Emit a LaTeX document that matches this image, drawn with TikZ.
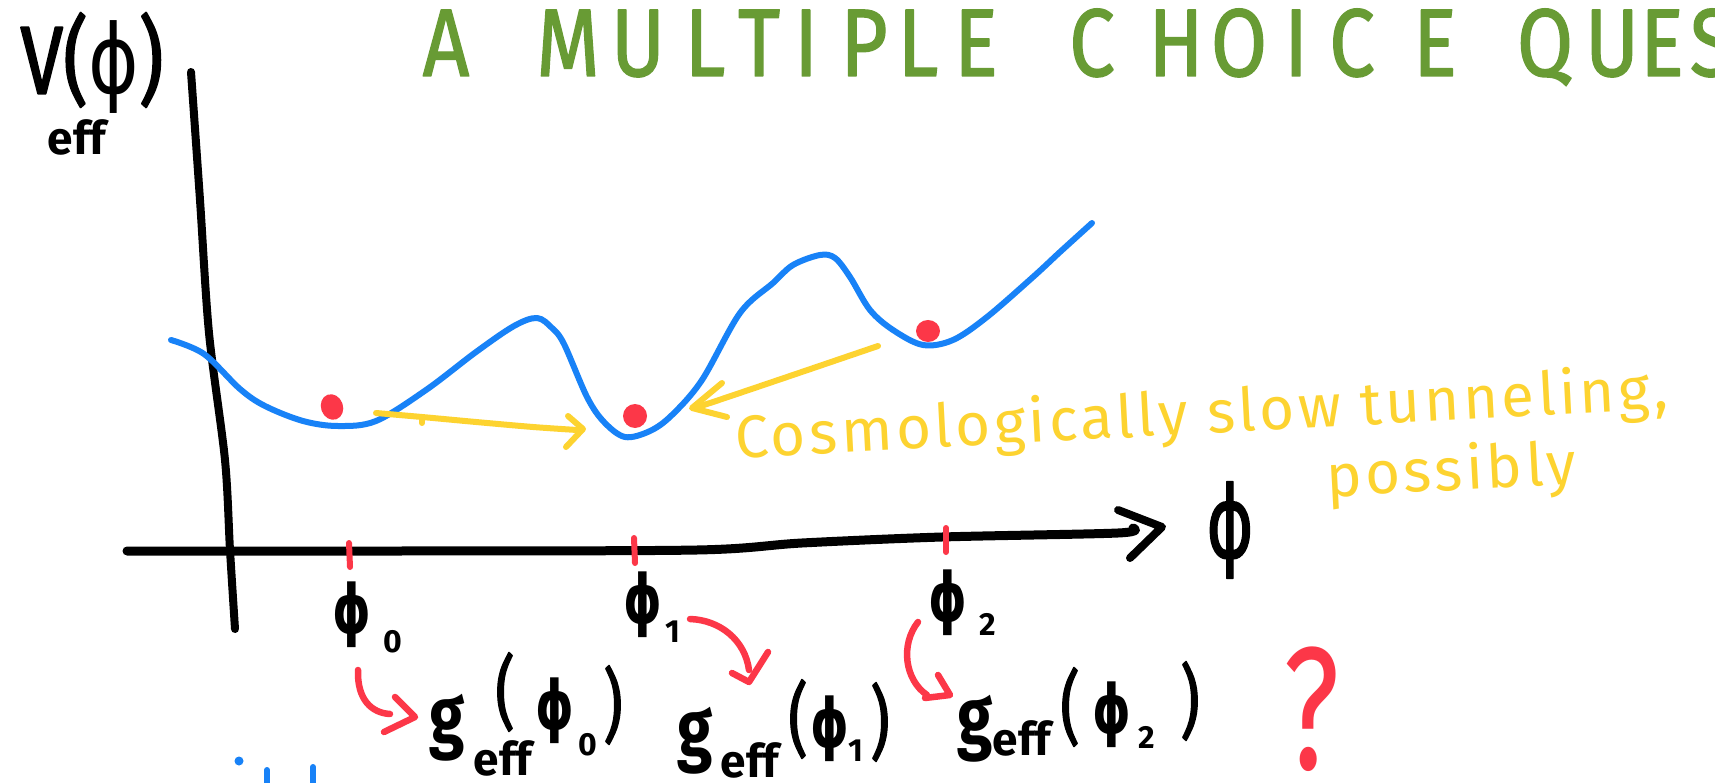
\documentclass[tikz,border=0pt]{standalone}
\usepackage{fontspec}
\setmainfont{Fira Sans}
\newfontfamily\phifont{DejaVu Sans}
\definecolor{tgreen}{RGB}{104,155,52}
\definecolor{tyellow}{RGB}{253,211,48}
\definecolor{tred}{RGB}{252,55,72}
\definecolor{tblue}{RGB}{24,130,247}
\begin{document}
\begin{tikzpicture}[x=1pt,y=-1pt,line cap=round,line join=round,
  ink/.style={line width=8pt,black},
  bluecurve/.style={line width=6pt,tblue},
  yarrow/.style={line width=6pt,tyellow},
  rarrow/.style={line width=6.5pt,tred},
  rtick/.style={line width=6pt,tred},
  lbl/.style={inner sep=0pt,outer sep=0pt},
  titlel/.style={lbl,text=tgreen,font=\fontsize{96}{96}\selectfont\addfontfeature{FakeBold=1.5},xscale=0.85,anchor=base},
  bigphi/.style={lbl,font=\phifont\bfseries\fontsize{68}{68}\selectfont,xscale=0.72},
  subl/.style={lbl,font=\bfseries\fontsize{32}{32}\selectfont},
  gl/.style={lbl,font=\bfseries\fontsize{80}{80}\selectfont,xscale=0.8},
  effl/.style={lbl,font=\bfseries\fontsize{46}{46}\selectfont},
  parl/.style={lbl,font=\fontsize{80}{80}\selectfont\addfontfeature{FakeBold=2},xscale=0.75},
  ytext/.style={lbl,text=tyellow,font=\fontsize{60}{60}\selectfont\addfontfeature{LetterSpace=6}}
]
\useasboundingbox (0,0) rectangle (1715,783);
\fill[white] (0,0) rectangle (1715,783);

% title
\foreach \x/\c [count=\i] in {446/A,568/M,638/U,705/L,759/T,806/I,864/P,918/L,976/E,1092/C,1176/H,1239/O,1296/I,1352/C,1435/E,1545/Q,1612/U,1662/E,1712/S}
  \node[titlel] (t\i) at (\x,76) {\c};

% axes
\draw[ink] plot[smooth] coordinates {(191,72) (200,200) (209,333) (225,460) (230,550) (235,629)};
\draw[ink,line width=9pt] plot[smooth] coordinates {(127,551) (400,551) (697,550) (802,543) (942,537) (1118,533) (1133,528)};
\draw[ink] (1118,510) .. controls (1140,518) .. (1162,527) -- (1130,558);

% red ticks
\draw[rtick] (349,543) -- (350,567);
\draw[rtick] (634,538) -- (635,563);
\draw[rtick] (946,528) -- (946,552);

% potential
\draw[bluecurve] plot[smooth,tension=0.55] coordinates {(171,340) (204,354) (240,389) (265,406) (303,421) (338,426) (376,421) (426,390) (476,352) (514,326) (537,318) (552,328) (564,344) (587,397) (604,422) (625,437) (650,431) (672,415) (702,380) (740,313) (773,283) (793,265) (820,255) (835,258) (850,277) (870,310) (893,330) (923,345) (953,340) (987,317) (1033,277) (1060,252) (1092,223)};

% red balls
\fill[tred,rotate around={20:(332,407)}] (332,407) ellipse [x radius=11pt, y radius=13pt];
\fill[tred] (635,416) ellipse [x radius=12pt, y radius=12pt];
\fill[tred] (928,331) ellipse [x radius=12pt, y radius=11pt];

% yellow arrows
\draw[yarrow] plot[smooth] coordinates {(376,413) (422,417) (476,422) (533,427) (577,430)};
\draw[yarrow] (422,417) -- (422,423);
\draw[yarrow] (568,416) -- (583,429) -- (566,447);
\draw[yarrow] plot[smooth] coordinates {(878,346) (787,377) (710,403) (693,408)};
\draw[yarrow] (722,383) -- (692,408) -- (727,417);

% yellow text
\node[ytext,anchor=base west,rotate=3] (cosmo) at (736,458) {Cosmologically slow tunneling,};
\node[ytext,anchor=base west,rotate=3] (poss) at (1327,497) {possibly};

% V(phi) label
\node[lbl,font=\fontsize{96}{96}\selectfont\addfontfeature{FakeBold=2},xscale=0.8] (V) at (92,63) {V({\phifont ϕ})};
\node[effl] (Veff) at (77,137) {eff};

% axis phi
\node[lbl,font=\phifont\fontsize{100}{100}\selectfont\addfontfeature{FakeBold=1.5},xscale=0.72] (phiax) at (1230,530) {ϕ};

% phi labels
\node[bigphi] (p0) at (352,615) {ϕ};
\node[subl] (s0) at (393,642) {0};
\node[bigphi] (p1) at (643,605) {ϕ};
\node[subl] (s1) at (673,632) {1};
\node[bigphi] (p2) at (948,603) {ϕ};
\node[subl] (s2) at (988,624) {2};

% g_eff(phi_0)
\node[gl] (g0) at (447,728) {g};
\node[effl] (e0) at (503,758) {eff};
\node[parl] (l0) at (505,692) {(};
\node[bigphi] (q0) at (555,711) {ϕ};
\node[subl] (n0) at (588,745) {0};
\node[parl] (r0) at (613,705) {)};
% g_eff(phi_1)
\node[gl] (g1) at (695,741) {g};
\node[effl] (e1) at (750,760) {eff};
\node[parl] (l1) at (798,719) {(};
\node[bigphi] (q1) at (830,729) {ϕ};
\node[subl] (n1) at (856,751) {1};
\node[parl] (r1) at (880,722) {)};
% g_eff(phi_2)
\node[gl] (g2) at (975,729) {g};
\node[effl] (e2) at (1022,738) {eff};
\node[parl] (l2) at (1070,707) {(};
\node[bigphi] (q2) at (1112,715) {ϕ};
\node[subl] (n2) at (1147,737) {2};
\node[parl] (r2) at (1190,701) {)};

% red arrows
\draw[rarrow] (358,670) .. controls (357,700) and (372,713) .. (390,714);
\draw[rarrow] (395,697) -- (415,717) -- (384,732);
\draw[rarrow] (690,619) .. controls (720,620) and (745,640) .. (749,670);
\draw[rarrow] (732,673) -- (749,682) -- (768,652);
\draw[rarrow] (918,622) .. controls (900,645) and (905,680) .. (927,695);
\draw[rarrow] (938,675) -- (950,695) -- (925,698);

% question mark
\node[lbl,text=tred,font=\fontsize{175}{175}\selectfont,xscale=0.7] (qm) at (1312,709) {?};

% blue marks at bottom
\fill[tblue] (239,761) circle [radius=4.5pt];
\draw[line width=6pt,tblue] (267,770) -- (267,800);
\draw[line width=6pt,tblue] (313,767) -- (313,800);
\end{tikzpicture}
\end{document}
